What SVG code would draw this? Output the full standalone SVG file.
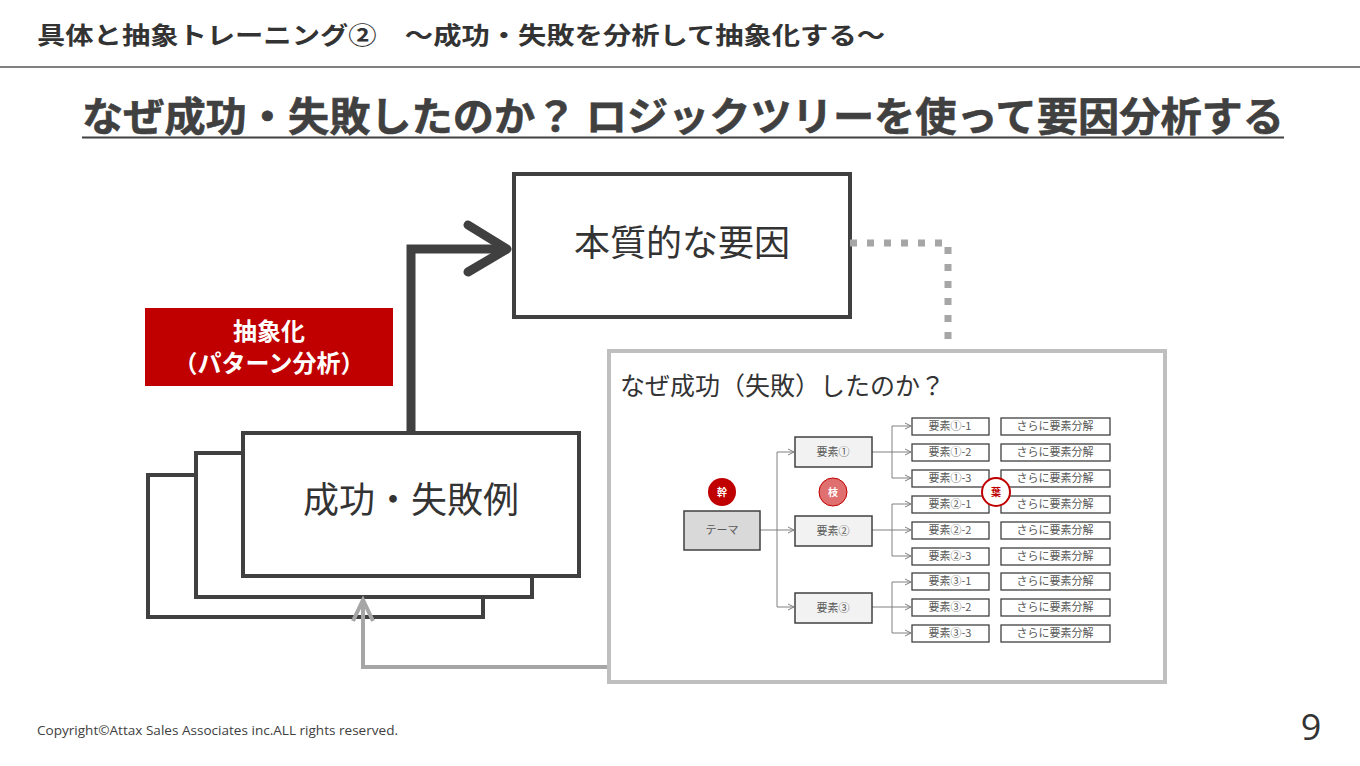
<svg xmlns="http://www.w3.org/2000/svg" width="1360" height="766" viewBox="0 0 1360 766">
<style>
.jp{font-family:"Noto Sans CJK JP","Noto Sans",sans-serif;}
.b{font-weight:bold;}
.dk{stroke:#404040;fill:none;}
.bx{stroke:#404040;fill:#fff;stroke-width:4;}
.sm{font-family:"Noto Sans CJK JP",sans-serif;font-size:11px;fill:#595959;text-anchor:middle;}
.l3{fill:#fff;stroke:#404040;stroke-width:1.3;}
.tc{stroke:#808080;stroke-width:1;fill:none;}
</style>
<defs>
<marker id="sa" markerWidth="8" markerHeight="8" refX="7" refY="4" orient="auto" markerUnits="userSpaceOnUse">
<path d="M1,1 L7,4 L1,7" fill="none" stroke="#808080" stroke-width="1"/>
</marker>
</defs>
<rect width="1360" height="766" fill="#fff"/>
<g id="header">
<text class="jp b" x="37" y="44" font-size="24" fill="#333" textLength="848" lengthAdjust="spacingAndGlyphs">具体と抽象トレーニング②　～成功・失敗を分析して抽象化する～</text>
<line x1="0" y1="67" x2="1360" y2="67" stroke="#808080" stroke-width="2"/>
</g>
<g id="title">
<text class="jp b" x="82" y="131" font-size="40" fill="#404040" stroke="#404040" stroke-width="0.6" textLength="1202" lengthAdjust="spacingAndGlyphs">なぜ成功・失敗したのか？ ロジックツリーを使って要因分析する</text>
<line x1="82" y1="137.5" x2="1284" y2="137.5" stroke="#404040" stroke-width="2"/>
</g>
<g id="essential">
<rect x="514" y="174" width="336" height="143" class="bx"/>
<text class="jp" x="682" y="256" font-size="36" fill="#333" text-anchor="middle">本質的な要因</text>
</g>
<g id="abstraction">
<rect x="145" y="308" width="248" height="78" fill="#c00000"/>
<text class="jp b" x="269" y="340" font-size="24" fill="#fff" text-anchor="middle">抽象化</text>
<text class="jp b" x="269" y="372" font-size="24" fill="#fff" text-anchor="middle">（パターン分析）</text>
</g>
<g id="cases">
<rect x="148" y="475" width="335" height="142" class="bx"/>
<rect x="196" y="453" width="336" height="144" class="bx"/>
<rect x="243" y="433" width="336" height="143" class="bx"/>
<text class="jp" x="411" y="513" font-size="36" fill="#333" text-anchor="middle">成功・失敗例</text>
</g>
<g id="connectors">
<path d="M850,243 H948 V343" fill="none" stroke="#a6a6a6" stroke-width="7" stroke-dasharray="7,10"/>
<path d="M411,432 V249 H505" class="dk" stroke-width="9" stroke-linejoin="miter"/>
<path d="M468,225 L507,249 L468,272" class="dk" stroke-width="9" stroke-linecap="round" stroke-linejoin="round"/>
<path d="M610,667 H363 V600" fill="none" stroke="#a6a6a6" stroke-width="4"/>
<path d="M353,621 L363,600 L373,621" fill="none" stroke="#a6a6a6" stroke-width="4"/>
</g>
<g id="logic-tree">
<rect x="609" y="351" width="556" height="331" fill="#fff" stroke="#bfbfbf" stroke-width="4"/>
<text class="jp" x="620" y="395" font-size="25" fill="#333">なぜ成功（失敗）したのか？</text>
<g id="tree-lines">
<path class="tc" d="M760,530 H777 M777,452 V607"/>
<path class="tc" d="M777,452 H794" marker-end="url(#sa)"/>
<path class="tc" d="M777,530 H794" marker-end="url(#sa)"/>
<path class="tc" d="M777,607 H794" marker-end="url(#sa)"/>
<path class="tc" d="M872,452 H892 M892,426 V478 M872,530 H892 M892,504 V556 M872,607 H892 M892,582 V633"/>
<path class="tc" d="M892,426 H911" marker-end="url(#sa)"/>
<path class="tc" d="M892,452 H911" marker-end="url(#sa)"/>
<path class="tc" d="M892,478 H911" marker-end="url(#sa)"/>
<path class="tc" d="M892,504 H911" marker-end="url(#sa)"/>
<path class="tc" d="M892,530 H911" marker-end="url(#sa)"/>
<path class="tc" d="M892,556 H911" marker-end="url(#sa)"/>
<path class="tc" d="M892,582 H911" marker-end="url(#sa)"/>
<path class="tc" d="M892,607 H911" marker-end="url(#sa)"/>
<path class="tc" d="M892,633 H911" marker-end="url(#sa)"/>
</g>
<g id="theme">
<rect x="684" y="511" width="76" height="39" fill="#d9d9d9" stroke="#404040" stroke-width="1.5"/>
<text class="sm" x="722" y="534">テーマ</text>
</g>
<g id="e1"><rect x="795" y="437" width="77" height="30" fill="#f2f2f2" stroke="#404040" stroke-width="1.5"/><text class="sm" x="833" y="456">要素①</text></g>
<g id="e2"><rect x="795" y="516" width="77" height="30" fill="#f2f2f2" stroke="#404040" stroke-width="1.5"/><text class="sm" x="833" y="535">要素②</text></g>
<g id="e3"><rect x="795" y="593" width="77" height="30" fill="#f2f2f2" stroke="#404040" stroke-width="1.5"/><text class="sm" x="833" y="612">要素③</text></g>
<g id="level3">
<rect class="l3" x="912" y="418" width="77" height="17"/><text class="sm" x="950" y="430">要素①-1</text>
<rect class="l3" x="912" y="444" width="77" height="17"/><text class="sm" x="950" y="456">要素①-2</text>
<rect class="l3" x="912" y="470" width="77" height="17"/><text class="sm" x="950" y="482">要素①-3</text>
<rect class="l3" x="912" y="496" width="77" height="17"/><text class="sm" x="950" y="508">要素②-1</text>
<rect class="l3" x="912" y="522" width="77" height="17"/><text class="sm" x="950" y="534">要素②-2</text>
<rect class="l3" x="912" y="548" width="77" height="17"/><text class="sm" x="950" y="560">要素②-3</text>
<rect class="l3" x="912" y="573" width="77" height="17"/><text class="sm" x="950" y="585">要素③-1</text>
<rect class="l3" x="912" y="599" width="77" height="17"/><text class="sm" x="950" y="611">要素③-2</text>
<rect class="l3" x="912" y="625" width="77" height="17"/><text class="sm" x="950" y="637">要素③-3</text>
</g>
<g id="level4">
<rect class="l3" x="1001" y="418" width="109" height="17"/><text class="sm" x="1055" y="430">さらに要素分解</text>
<rect class="l3" x="1001" y="444" width="109" height="17"/><text class="sm" x="1055" y="456">さらに要素分解</text>
<rect class="l3" x="1001" y="470" width="109" height="17"/><text class="sm" x="1055" y="482">さらに要素分解</text>
<rect class="l3" x="1001" y="496" width="109" height="17"/><text class="sm" x="1055" y="508">さらに要素分解</text>
<rect class="l3" x="1001" y="522" width="109" height="17"/><text class="sm" x="1055" y="534">さらに要素分解</text>
<rect class="l3" x="1001" y="548" width="109" height="17"/><text class="sm" x="1055" y="560">さらに要素分解</text>
<rect class="l3" x="1001" y="573" width="109" height="17"/><text class="sm" x="1055" y="585">さらに要素分解</text>
<rect class="l3" x="1001" y="599" width="109" height="17"/><text class="sm" x="1055" y="611">さらに要素分解</text>
<rect class="l3" x="1001" y="625" width="109" height="17"/><text class="sm" x="1055" y="637">さらに要素分解</text>
</g>
<g id="badge-trunk"><circle cx="722" cy="492" r="14" fill="#c00000"/><text class="jp b" x="722" y="496" font-size="10" fill="#fff" text-anchor="middle">幹</text></g>
<g id="badge-branch"><circle cx="833" cy="492" r="14" fill="#e06f6f" stroke="#c00000" stroke-width="1"/><text class="jp b" x="833" y="496" font-size="10" fill="#fff" text-anchor="middle">枝</text></g>
<g id="badge-leaf"><circle cx="996" cy="492" r="14" fill="#fff" stroke="#c00000" stroke-width="2"/><text class="jp b" x="996" y="496" font-size="10" fill="#c00000" text-anchor="middle">葉</text></g>
</g>
<g id="footer">
<text x="37" y="735" font-family="'Open Sans','Liberation Sans',sans-serif" font-size="13" fill="#404040" textLength="361" lengthAdjust="spacingAndGlyphs">Copyright©Attax Sales Associates inc.ALL rights reserved.</text>
<text x="1311" y="740" font-family="'Open Sans','Liberation Sans',sans-serif" font-size="36" fill="#333" text-anchor="middle">9</text>
</g>
</svg>
